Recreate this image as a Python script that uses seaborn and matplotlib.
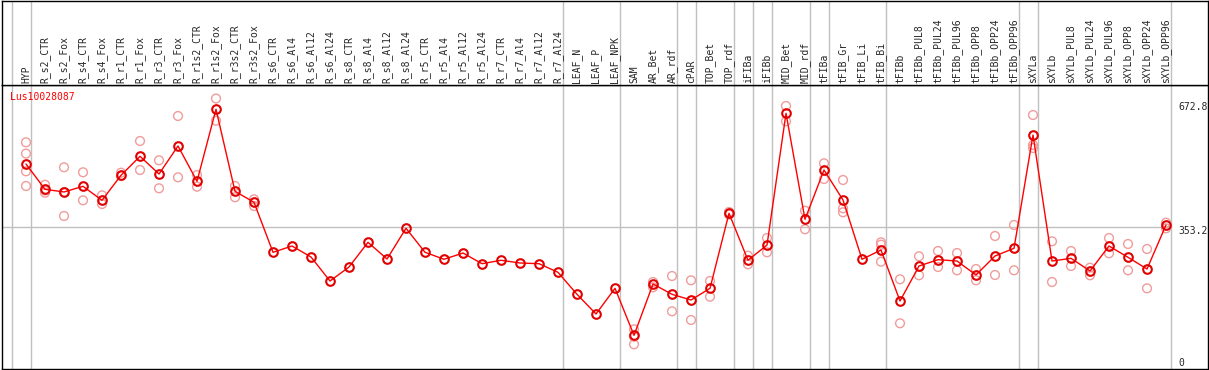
import numpy as np
import pandas as pd
import seaborn as sns
import matplotlib.pyplot as plt

# Sample names along the x axis
categories = [
    'HYP', 'R_s2_CTR', 'R_s2_Fox', 'R_s4_CTR', 'R_s4_Fox', 'R_r1_CTR', 'R_r1_Fox',
    'R_r3_CTR', 'R_r3_Fox', 'R_r1s2_CTR', 'R_r1s2_Fox', 'R_r3s2_CTR', 'R_r3s2_Fox',
    'R_s6_CTR', 'R_s6_Al4', 'R_s6_Al12', 'R_s6_Al24', 'R_s8_CTR', 'R_s8_Al4',
    'R_s8_Al12', 'R_s8_Al24', 'R_r5_CTR', 'R_r5_Al4', 'R_r5_Al12', 'R_r5_Al24',
    'R_r7_CTR', 'R_r7_Al4', 'R_r7_Al12', 'R_r7_Al24', 'LEAF_N', 'LEAF_P', 'LEAF_NPK',
    'SAM', 'AR_Bet', 'AR_rdf', 'cPAR', 'TOP_Bet', 'TOP_rdf', 'iFIBa', 'iFIBb',
    'MID_Bet', 'MID_rdf', 'tFIBa', 'tFIB_Gr', 'tFIB_Li', 'tFIB_Bi', 'tFIBb',
    'tFIBb_PUL8', 'tFIBb_PUL24', 'tFIBb_PUL96', 'tFIBb_OPP8', 'tFIBb_OPP24',
    'tFIBb_OPP96', 'sXYLa', 'sXYLb', 'sXYLb_PUL8', 'sXYLb_PUL24', 'sXYLb_PUL96',
    'sXYLb_OPP8', 'sXYLb_OPP24', 'sXYLb_OPP96',
]

# Mean expression per sample
means = [
    509.9, 447.0, 440.3, 454.4, 419.6, 481.8, 529.0, 485.0, 554.7, 466.9, 646.0,
    442.0, 414.6, 290.3, 305.9, 278.6, 218.9, 253.7, 315.1, 273.6, 350.0, 290.3,
    272.9, 288.5, 261.9, 270.4, 263.7, 261.9, 240.5, 185.8, 136.8, 200.7, 83.8,
    211.4, 185.8, 171.6, 200.7, 387.3, 270.4, 308.4, 636.0, 372.3, 495.0, 420.4,
    272.9, 296.0, 169.1, 256.2, 271.9, 268.6, 233.8, 281.1, 300.2, 582.0, 268.6,
    275.3, 243.8, 305.9, 277.8, 248.7, 358.2,
]

# Individual replicates per sample (empty where only the mean is shown)
replicates = [
    [563.9, 535.8, 491.7, 455.2], [458.4, 438.5, 444.0], [501.7, 380.6, 440.0],
    [489.3, 419.6], [432.0, 410.4], [488.3, 480.0], [567.1, 495.0], [519.1, 449.5],
    [629.3, 476.8], [482.5, 453.4], [672.8, 617.6], [455.2, 427.1], [422.1, 405.4],
    [], [], [], [], [], [], [], [], [], [], [], [], [], [], [], [], [], [], [],
    [98.7, 61.4, 80.3], [216.4, 203.2], [231.3, 143.5], [220.6, 121.9],
    [218.9, 179.8], [390.5, 384.3], [281.8, 260.4], [325.8, 290.3],
    [654.2, 616.1], [393.7, 347.5], [511.6, 472.6], [470.1, 399.7, 389.8], [],
    [315.1, 309.2, 266.9], [223.1, 113.7], [280.3, 233.1], [293.5, 253.7],
    [288.5, 245.5], [248.7, 220.6], [330.8, 233.8], [358.2, 245.5],
    [631.8, 557.2, 549.7], [317.6, 216.4], [293.5, 256.2], [252.0, 233.1],
    [325.8, 287.8], [310.9, 245.5], [298.5, 200.7], [363.9, 350.0],
]

# Index of last sample in each group (separator drawn just after it)
group_ends = [-1, 0, 28, 31, 34, 35, 37, 38, 39, 41, 42, 45, 52, 53, 60]

gene = 'Lus10028087'
y_max = 706.4
y_mid = 353.2
y_top_label = 672.8

pos = np.arange(len(categories))
mean_df = pd.DataFrame({'pos': pos, 'value': means})
rep_df = pd.DataFrame(
    [(i, v) for i, reps in enumerate(replicates) for v in reps],
    columns=['pos', 'value'],
)

sns.set_style('white')
plt.rcParams['font.family'] = ['DejaVu Sans Mono']

W, H = 1209, 370
fig = plt.figure(figsize=(W / 100, H / 100), dpi=100)
left, right = 1.5 / W, 1208 / W
ax = fig.add_axes([left, 1 / H, right - left, 284 / H])
hax = fig.add_axes([left, 285 / H, right - left, 84.5 / H], sharex=ax)

xlim = (-1.29, 62.21)
sep_x = [g + 0.24 for g in group_ends]

# Main panel
for x in sep_x:
    ax.axvline(x, color='#c0c0c0', lw=1, zorder=0)
ax.hlines(y_mid, xlim[0], sep_x[-1], color='#c0c0c0', lw=1, zorder=0)

sns.scatterplot(data=rep_df, x='pos', y='value', marker='o', s=40, ax=ax,
                linewidth=1, zorder=2, legend=False)
pts = ax.collections[-1]
pts.set_facecolor('none')
pts.set_edgecolor('#f09c9c')

sns.lineplot(data=mean_df, x='pos', y='value', color='red', lw=1, marker='o',
             markersize=6.2, markerfacecolor='none', markeredgecolor='#e00000',
             markeredgewidth=1.5, ax=ax, zorder=3)

ax.set_xlim(*xlim)
ax.set_ylim(0, y_max)
ax.set_xlabel('')
ax.set_ylabel('')
ax.set_xticks([])
ax.set_yticks([])

# gene name, top-left inside the plot (x in data, y in axes fraction)
ax.text(-0.84, 1 - 12 / 284, gene, color='red', fontsize=7,
        transform=ax.get_xaxis_transform(), va='center', ha='left')
lab_x = 60.63
ax.annotate(f'{y_top_label:g}', (lab_x, y_top_label), xytext=(0, -8),
            textcoords='offset pixels', fontsize=7, va='center', ha='left')
ax.annotate(f'{y_mid:g}', (lab_x, y_mid), xytext=(0, -4.5),
            textcoords='offset pixels', fontsize=7, va='center', ha='left')
ax.annotate('0', (lab_x, 0), xytext=(0, 6.5),
            textcoords='offset pixels', fontsize=7, va='center', ha='left')

# Header panel with rotated sample names
for x in sep_x:
    hax.axvline(x, color='#c0c0c0', lw=1, zorder=0)
for i, name in enumerate(categories):
    hax.text(i, 2 / 85, name, rotation=90, fontsize=7, ha='center', va='bottom')
hax.set_ylim(0, 1)
hax.set_xticks([])
hax.set_yticks([])

for a in (ax, hax):
    for s in a.spines.values():
        s.set_color('black')
        s.set_linewidth(1)
        s.set_visible(True)

fig.savefig('out.png', dpi=100)
